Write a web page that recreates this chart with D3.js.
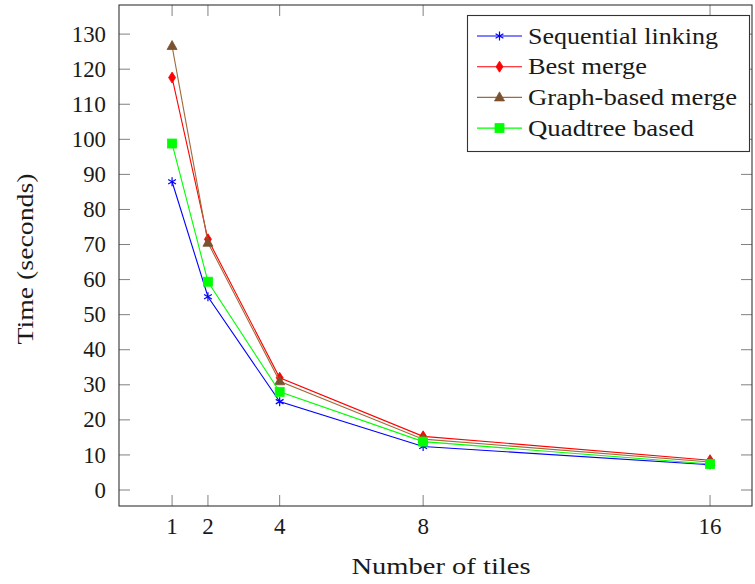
<!DOCTYPE html>
<html>
<head>
<meta charset="utf-8">
<script src="https://cdn.jsdelivr.net/npm/d3@7"></script>
<style>
  body { margin: 0; background: #fff; }
  text { font-family: "Liberation Serif", "DejaVu Serif", serif; fill: #1a1a1a; }
</style>
</head>
<body>
<svg id="chart" width="755" height="584"></svg>
<script>
// data
tiles = [1, 2, 4, 8, 16];
seqLinking = [87.9, 55.1, 25.2, 12.4, 7.2];
bestMerge = [117.6, 71.5, 32.0, 15.3, 8.5];
graphMerge = [126.6, 70.5, 31.0, 14.5, 8.0];
quadtree = [98.8, 59.4, 28.0, 13.8, 7.4];
yTicks = d3.range(0, 131, 10);
xTicks = [1, 2, 4, 8, 16];

let series = [
  {name: "Sequential linking", values: seqLinking, color: "#0000ff", fill: "#0000ff", mark: "star", w: 190},
  {name: "Best merge", values: bestMerge, color: "#ff0000", fill: "#ff0000", mark: "diamond", w: 119},
  {name: "Graph-based merge", values: graphMerge, color: "#a06a3a", fill: "#7a5230", mark: "triangle", w: 209},
  {name: "Quadtree based", values: quadtree, color: "#00ff00", fill: "#00ff00", mark: "square", w: 166}
];

var svg = d3.select("#chart");
var plotLeft = 119, plotRight = 752, plotTop = 5, plotBottom = 506;

let x = d3.scaleLinear().domain([-0.48, 17.17]).range([plotLeft, plotRight]);
let y = d3.scaleLinear().domain([-4.56, 138.3]).range([plotBottom, plotTop]);

// ticks, inward on all four sides
var tickLen = 11;
var ticks = svg.append("g").attr("stroke", "#808080").attr("stroke-width", 1);
for (t of xTicks) {
  ticks.append("line").attr("x1", x(t)).attr("x2", x(t)).attr("y1", plotBottom).attr("y2", plotBottom - tickLen);
  ticks.append("line").attr("x1", x(t)).attr("x2", x(t)).attr("y1", plotTop).attr("y2", plotTop + tickLen);
}
for (t of yTicks) {
  ticks.append("line").attr("x1", plotLeft).attr("x2", plotLeft + tickLen).attr("y1", y(t)).attr("y2", y(t));
  ticks.append("line").attr("x1", plotRight).attr("x2", plotRight - tickLen).attr("y1", y(t)).attr("y2", y(t));
}

// tick labels
svg.append("g").selectAll("text").data(xTicks).join("text")
  .attr("x", d => x(d)).attr("y", 534)
  .attr("text-anchor", "middle").attr("font-size", 23)
  .text(d => d);
svg.append("g").selectAll("text").data(yTicks).join("text")
  .attr("x", 106).attr("y", d => y(d)).attr("dy", "0.33em")
  .attr("text-anchor", "end").attr("font-size", 23)
  .attr("textLength", d => String(d).length * 11.4).attr("lengthAdjust", "spacingAndGlyphs")
  .text(d => d);

// axis labels
svg.append("text").attr("x", 441).attr("y", 574)
  .attr("text-anchor", "middle").attr("font-size", 24)
  .attr("textLength", 179).attr("lengthAdjust", "spacingAndGlyphs")
  .text("Number of tiles");
svg.append("text").attr("transform", "translate(33,259) rotate(-90)")
  .attr("text-anchor", "middle").attr("font-size", 24)
  .attr("textLength", 171).attr("lengthAdjust", "spacingAndGlyphs")
  .text("Time (seconds)");

function drawMark(g, kind, cx, cy, s) {
  if (kind == "star") {
    var r = 4.5;
    for (var k = 0; k < 3; k++) {
      var a = Math.PI / 2 + k * Math.PI / 3;
      g.append("line").attr("x1", cx + r * Math.cos(a)).attr("y1", cy - r * Math.sin(a))
        .attr("x2", cx - r * Math.cos(a)).attr("y2", cy + r * Math.sin(a))
        .attr("stroke", s.color).attr("stroke-width", 1.2);
    }
  } else if (kind == "diamond") {
    g.append("path").attr("d", `M${cx},${cy - 5.5}L${cx + 3.5},${cy}L${cx},${cy + 5.5}L${cx - 3.5},${cy}Z`)
      .attr("fill", s.fill).attr("stroke", s.color).attr("stroke-width", 0.8);
  } else if (kind == "triangle") {
    g.append("path").attr("d", `M${cx},${cy - 5.5}L${cx + 5},${cy + 3.5}L${cx - 5},${cy + 3.5}Z`)
      .attr("fill", s.fill).attr("stroke", s.fill).attr("stroke-width", 0.8);
  } else {
    g.append("rect").attr("x", cx - 4.5).attr("y", cy - 4.5).attr("width", 9).attr("height", 9)
      .attr("fill", s.fill).attr("stroke", s.color).attr("stroke-width", 0.8);
  }
}

let line = d3.line().x(d => x(d[0])).y(d => y(d[1]));
var plot = svg.append("g");
for (s of series) {
  var pts = tiles.map((t, i) => [t, s.values[i]]);
  plot.append("path").attr("d", line(pts)).attr("fill", "none")
    .attr("stroke", s.color).attr("stroke-width", 1.1);
  for (p of pts) drawMark(plot, s.mark, x(p[0]), y(p[1]), s);
}

// axis frame
svg.append("rect").attr("x", plotLeft).attr("y", plotTop)
  .attr("width", plotRight - plotLeft).attr("height", plotBottom - plotTop)
  .attr("fill", "none").attr("stroke", "#333").attr("stroke-width", 1.1);

// legend
var leg = svg.append("g");
leg.append("rect").attr("x", 467.5).attr("y", 15.5).attr("width", 282).attr("height", 136)
  .attr("fill", "#fff").attr("stroke", "#333").attr("stroke-width", 1.1);
series.forEach((s, i) => {
  var cy = 36 + i * 30.7;
  leg.append("line").attr("x1", 477).attr("x2", 522).attr("y1", cy).attr("y2", cy)
    .attr("stroke", s.color).attr("stroke-width", 1.1);
  drawMark(leg, s.mark, 499.5, cy, s);
  leg.append("text").attr("x", 528).attr("y", cy).attr("dy", "0.33em")
    .attr("font-size", 23).attr("textLength", s.w).attr("lengthAdjust", "spacingAndGlyphs")
    .text(s.name);
});
</script>
</body>
</html>
